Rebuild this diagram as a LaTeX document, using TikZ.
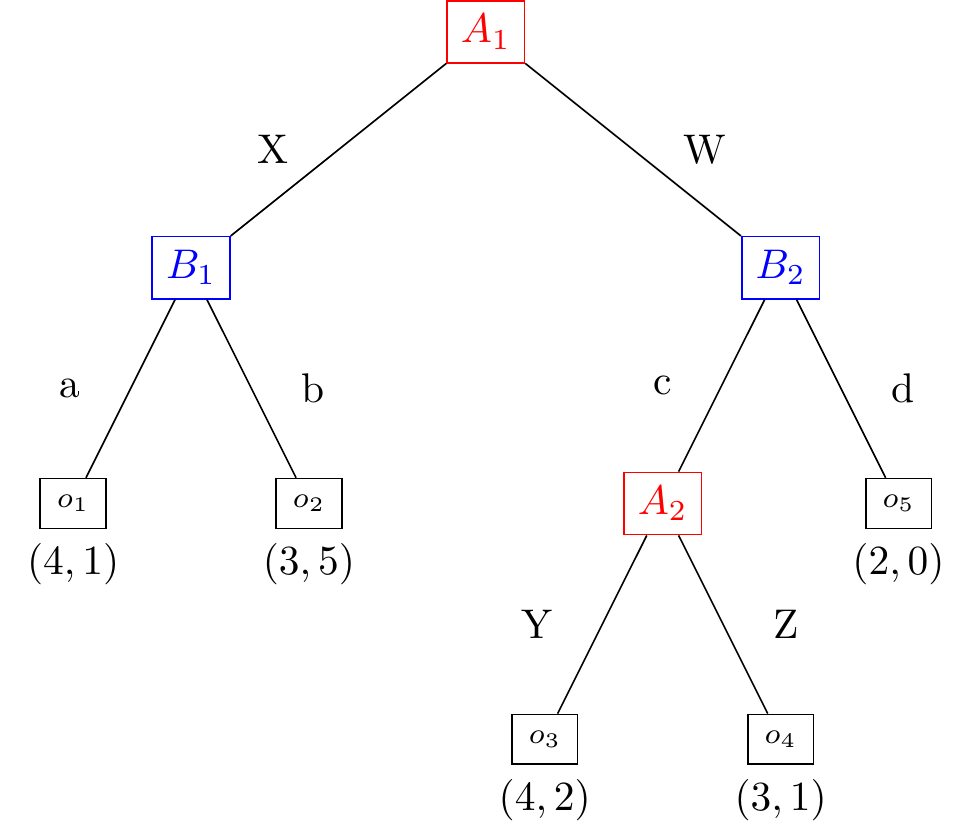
\documentclass[tikz,border=0pt]{standalone}
\usepackage{amsmath,amssymb}
\usetikzlibrary{positioning}

\begin{document}
\begin{tikzpicture}[on grid,
		playerA/.style={draw=red, text=red},
		playerB/.style={draw=blue, text=blue},
		outcome/.style={draw, font=\scriptsize, inner sep=4pt}]
		\useasboundingbox (-4.12,-6.80) rectangle (4.03,0.27);

		% Add the decision nodes
		\node[playerA]                                  (a1) {$A_1$};
		\node[playerB, below left=2cm and 2.5cm of a1]  (b1) {$B_1$};
		\node[playerB, below right=2cm and 2.5cm of a1] (b2) {$B_2$};
		\node[playerA, below left=2cm and 1cm of b2]    (a2) {$A_2$};

		% Add the outcomes
		\node[outcome, below left=2cm and 1cm of b1,  label=below:{$(4,1)$}] (o1) {$o_1$};
		\node[outcome, below right=2cm and 1cm of b1, label=below:{$(3,5)$}] (o2) {$o_2$};
		\node[outcome, below right=2cm and 1cm of b2, label=below:{$(2,0)$}] (o5) {$o_5$};
		\node[outcome, below left=2cm and 1cm of a2,  label=below:{$(4,2)$}] (o3) {$o_3$};
		\node[outcome, below right=2cm and 1cm of a2, label=below:{$(3,1)$}] (o4) {$o_4$};

		% Connect the nodes with the moves
		\draw
			(a1) edge node[left=3mm]  {X} (b1)
			(a1) edge node[right=3mm] {W} (b2)
			(b1) edge node[left=3mm]  {a} (o1)
			(b1) edge node[right=3mm] {b} (o2)
			(b2) edge node[left=3mm]  {c} (a2)
			(b2) edge node[right=3mm] {d} (o5)
			(a2) edge node[left=3mm]  {Y} (o3)
			(a2) edge node[right=3mm] {Z} (o4);
	\end{tikzpicture}
\end{document}
